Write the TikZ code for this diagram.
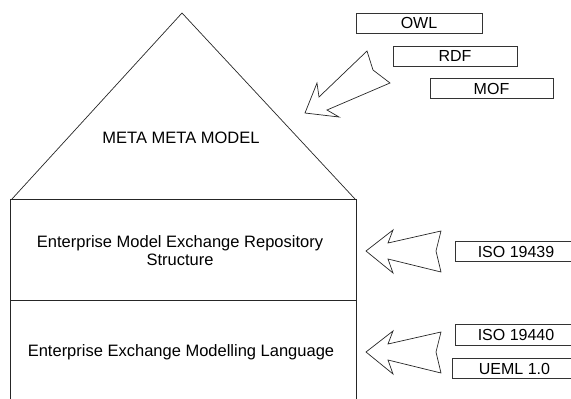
\documentclass[tikz,border=0pt]{standalone}
\usepackage{fontspec}
\setmainfont{Liberation Sans}
\begin{document}
\begin{tikzpicture}[x=1pt,y=-1pt,
  outline/.style={draw=black!85,line width=0.7pt,line join=miter},
  label/.style={font=\fontsize{16.5}{18.5}\selectfont,text=black,inner sep=0pt},
  stdbox/.style={draw=black!80,line width=0.7pt,minimum height=20pt,
    inner sep=0pt,font=\fontsize{16}{18}\selectfont},
  stdtext/.style={minimum height=20pt,inner sep=0pt,
    font=\fontsize{16}{18}\selectfont},
  edgebox/.style={draw=black!80,line width=0.7pt},
  blockarrow/.style={outline,fill=white}]
\useasboundingbox (0,0) rectangle (571,399);

% roof of the house
\draw[outline] (12,199) -- (182,13) -- (355,199);
% body of the house with its two storeys
\draw[outline] (10,405) -- (10,199) -- (356,199) -- (356,405);
\draw[outline] (10,300) -- (356,300);

% labels inside the house
\node[label] (mmm) at (181,137.5) {META META MODEL};
\node[label,align=center] (repo) at (180,250.5)
  {Enterprise Model Exchange Repository\\[-1pt]Structure};
\node[label] (lang) at (181,352.5) {Enterprise Exchange Modelling Language};

% standards feeding the meta meta model
\node[stdbox,minimum width=126pt] (owl) at (419,23) {OWL};
\node[stdbox,minimum width=124pt] (rdf) at (455,56) {RDF};
\node[stdbox,minimum width=123pt] (mof) at (491.5,88.5) {MOF};

% standards feeding the lower storeys; their boxes run past the right edge
\node[stdtext,minimum width=120pt] (iso39) at (516,251.5) {ISO 19439};
\node[stdtext,minimum width=120pt] (iso40) at (516,335) {ISO 19440};
\node[stdtext,minimum width=123pt] (ueml) at (514.5,368.5) {UEML 1.0};
\foreach \b in {iso39,iso40,ueml}
  \draw[edgebox] ([xshift=20pt]\b.north east) -- (\b.north west)
    -- (\b.south west) -- ([xshift=20pt]\b.south east);

% hollow block arrows
\draw[blockarrow] (305,113) -- (317,83) -- (319,97) -- (367,51) -- (373,70)
  -- (390,83) -- (327,110) -- (339,117) -- cycle;
\draw[blockarrow] (366,251) -- (393,230) -- (388,243) -- (441,231) -- (436,251)
  -- (441,272) -- (388,259) -- (393,273) -- cycle;
\begin{scope}[yshift=-101pt]
\draw[blockarrow] (366,251) -- (393,230) -- (388,243) -- (441,231) -- (436,251)
  -- (441,272) -- (388,259) -- (393,273) -- cycle;
\end{scope}
\end{tikzpicture}
\end{document}
